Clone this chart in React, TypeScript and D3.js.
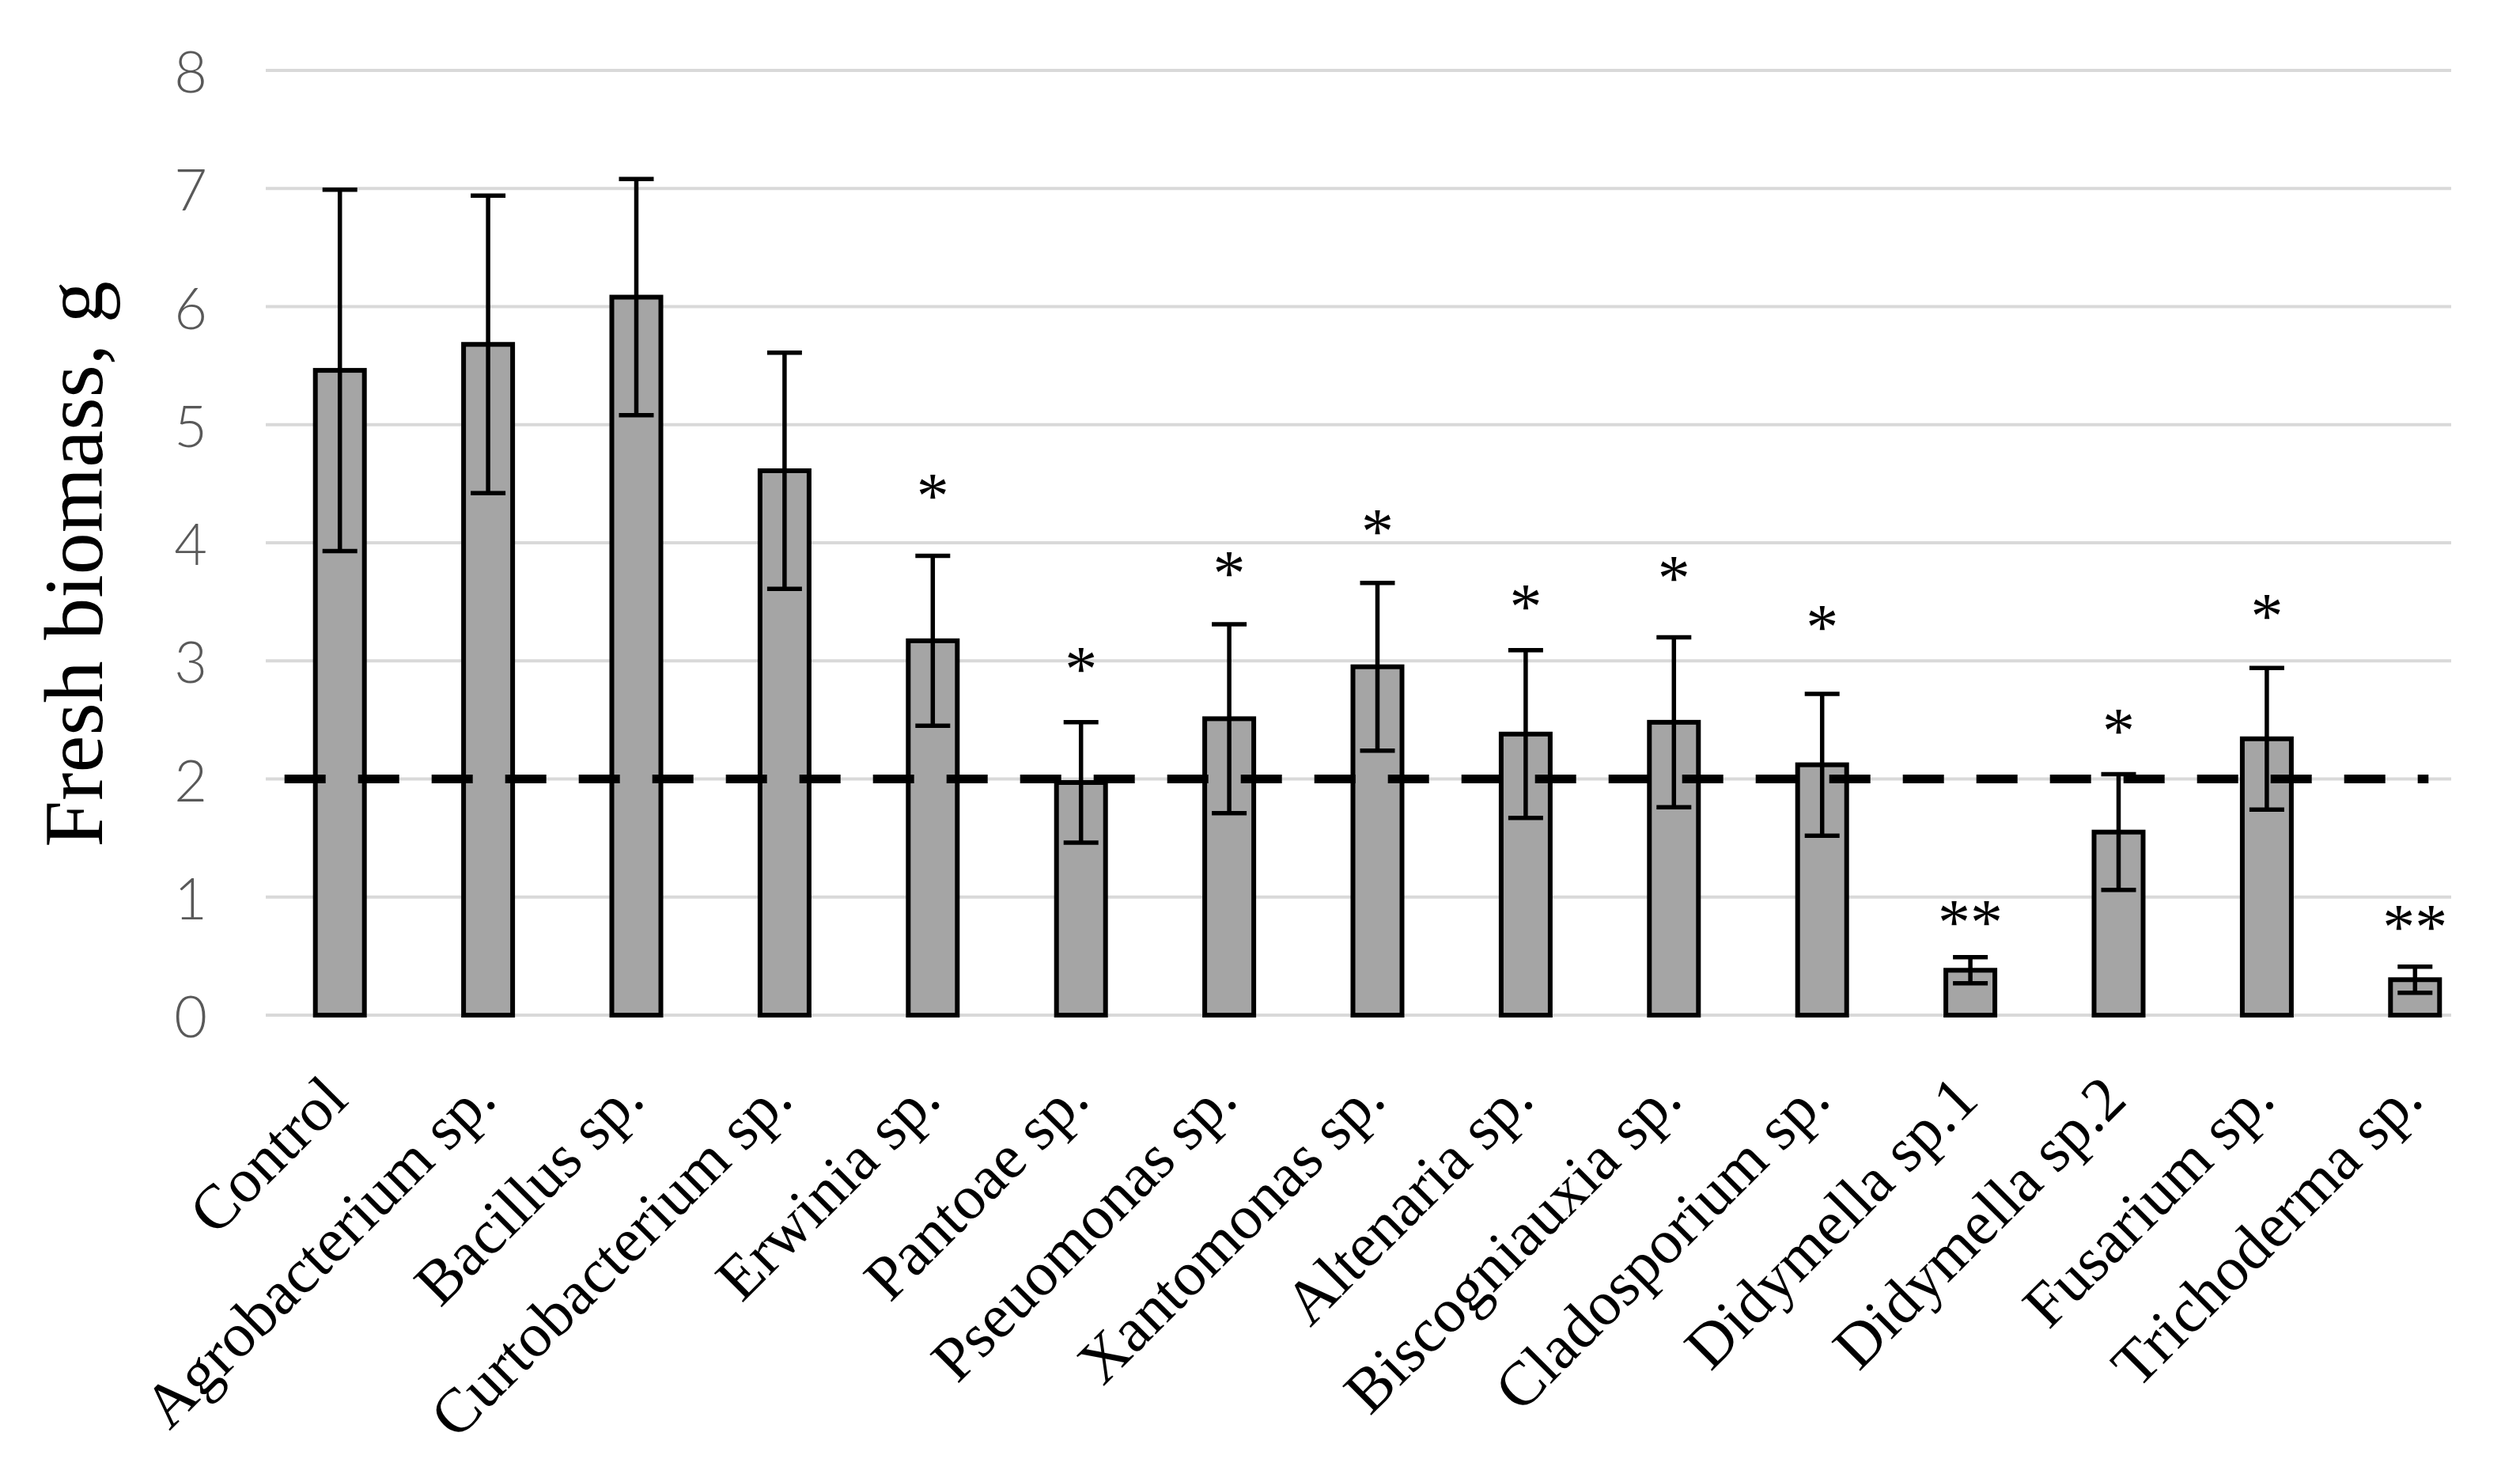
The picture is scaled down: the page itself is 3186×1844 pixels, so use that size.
import React from "react";
import * as d3 from "d3";

const categories = [
  "Control",
  "Agrobacterium sp.",
  "Bacillus sp.",
  "Curtobacterium sp.",
  "Erwinia sp.",
  "Pantoae sp.",
  "Pseuomonas sp.",
  "Xantomonas sp.",
  "Altenaria sp.",
  "Biscogniauxia sp.",
  "Cladosporium sp.",
  "Didymella sp.1",
  "Didymella sp.2",
  "Fusarium sp.",
  "Trichoderma sp.",
];
const means = [5.46, 5.68, 6.08, 4.61, 3.17, 1.97, 2.51, 2.95, 2.38, 2.48, 2.12, 0.38, 1.55, 2.34, 0.3];
const errors = [1.53, 1.26, 1.0, 1.0, 0.72, 0.51, 0.8, 0.71, 0.71, 0.72, 0.6, 0.11, 0.49, 0.6, 0.11];
const marks = ["", "", "", "", "*", "*", "*", "*", "*", "*", "*", "**", "*", "*", "**"];
const markY = [0, 0, 0, 0, 4.47, 3.0, 3.81, 4.17, 3.53, 3.77, 3.36, 0.86, 2.48, 3.45, 0.82];
const yTicks = [0, 1, 2, 3, 4, 5, 6, 7, 8];
const threshold = 2;
const yTitle = "Fresh biomass, g";

const W = 3186;
const H = 1844;
const plotLeft = 336;
const plotRight = 3099;
const bandRight = 3147;
const plotTop = 89;
const plotBottom = 1283;
const barWidth = 62;
const capWidth = 44;

export default function App() {
  const x = d3.scaleBand<string>().domain(categories).range([plotLeft, bandRight]).padding(0);
  const y = d3.scaleLinear().domain([0, 8]).range([plotBottom, plotTop]);
  const cx = (c: string) => (x(c) as number) + x.bandwidth() / 2;

  const serif = "'Liberation Serif', 'Times New Roman', serif";
  const sans = "Lato, 'Liberation Sans', sans-serif";

  const lineStart = cx(categories[0]) - 70;
  const lineEnd = cx(categories[categories.length - 1]) + 17;
  const dashLine = d3.line<[number, number]>()([
    [lineStart, y(threshold)],
    [lineEnd, y(threshold)],
  ]) as string;

  return (
    <svg
      width={W}
      height={H}
      viewBox={`0 0 ${W} ${H}`}
      style={{ position: "absolute", left: 0, top: 0, background: "#fff" }}
    >
      <rect x={0} y={0} width={W} height={H} fill="#fff" />
      {/* gridlines */}
      {yTicks.map((t) => (
        <line key={"g" + t} x1={plotLeft} x2={plotRight} y1={y(t)} y2={y(t)} stroke="#d9d9d9" strokeWidth={4} />
      ))}
      {/* y tick labels */}
      {yTicks.map((t) => (
        <text
          key={"t" + t}
          x={262}
          y={y(t)}
          textAnchor="end"
          dominantBaseline="central"
          fontFamily={sans}
          fontWeight={300}
          fontSize={72}
          fill="#595959"
        >
          {t}
        </text>
      ))}
      {/* y title */}
      <text
        transform={`translate(93, ${(plotTop + plotBottom) / 2 + 27}) rotate(-90)`}
        textAnchor="middle"
        dominantBaseline="central"
        fontFamily={serif}
        fontSize={106}
        fill="#000"
      >
        {yTitle}
      </text>
      {/* bars */}
      {categories.map((c, i) => (
        <rect
          key={"b" + c}
          x={cx(c) - barWidth / 2}
          y={y(means[i])}
          width={barWidth}
          height={y(0) - y(means[i])}
          fill="#a5a5a5"
          stroke="#000"
          strokeWidth={6}
        />
      ))}
      {/* error bars */}
      {categories.map((c, i) => {
        const hi = y(means[i] + errors[i]);
        const lo = y(means[i] - errors[i]);
        const xc = cx(c);
        return (
          <g key={"e" + c} stroke="#000" strokeWidth={5.5}>
            <line x1={xc} x2={xc} y1={hi} y2={lo} />
            <line x1={xc - capWidth / 2} x2={xc + capWidth / 2} y1={hi} y2={hi} />
            <line x1={xc - capWidth / 2} x2={xc + capWidth / 2} y1={lo} y2={lo} />
          </g>
        );
      })}
      {/* dashed threshold line */}
      <path d={dashLine} stroke="#000" strokeWidth={11} strokeDasharray="52 41" fill="none" />
      {/* significance marks */}
      {categories.map((c, i) =>
        marks[i] ? (
          <text
            key={"m" + c}
            x={cx(c)}
            y={y(markY[i]) + 38}
            textAnchor="middle"
            fontFamily={serif}
            fontSize={82}
            fill="#000"
          >
            {marks[i]}
          </text>
        ) : null
      )}
      {/* category labels */}
      {categories.map((c) => (
        <text
          key={"c" + c}
          transform={`translate(${cx(c) + 13}, ${plotBottom + 110}) rotate(-45)`}
          textAnchor="end"
          fontFamily={serif}
          fontSize={79}
          fill="#000"
        >
          {c}
        </text>
      ))}
    </svg>
  );
}
